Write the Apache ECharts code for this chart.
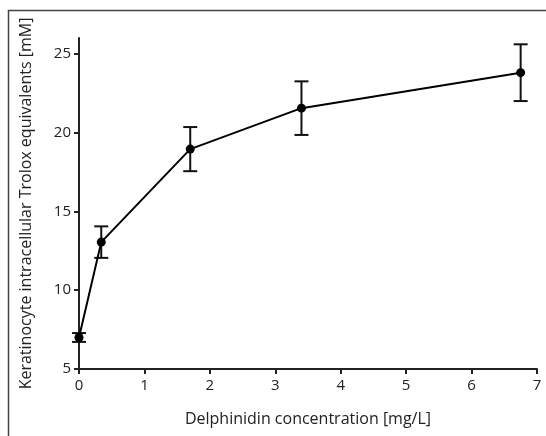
<!DOCTYPE html>
<html><head><meta charset="utf-8">
<script src="https://cdn.jsdelivr.net/npm/echarts@6/dist/echarts.min.js"></script>
<style>html,body{margin:0;padding:0;background:#fff}#c{width:546px;height:436px}</style>
</head><body><div id="c"></div>
<script>
const concentrations = [0, 0.34, 1.7, 3.4, 6.75];
const trolox = [7.0, 13.05, 18.95, 21.55, 23.8];
const errors = [0.28, 1.0, 1.4, 1.7, 1.8];
const xTicks = [0, 1, 2, 3, 4, 5, 6, 7];
const yTicks = [5, 10, 15, 20, 25];

const chart = echarts.init(document.getElementById('c'), null, {renderer: 'canvas'});
const font = 'Open Sans';
const lineData = concentrations.map((x, i) => [x, trolox[i]]);
const errData = concentrations.map((x, i) => [x, trolox[i] - errors[i], trolox[i] + errors[i]]);

chart.setOption({
  animation: false,
  backgroundColor: '#fff',
  graphic: [{
    type: 'rect', silent: true,
    shape: {x: 8.5, y: 10.5, width: 600, height: 500},
    style: {fill: 'none', stroke: '#444', lineWidth: 1.5}
  }],
  grid: {left: 79, right: 9, top: 38, bottom: 67, containLabel: false},
  xAxis: {
    type: 'value', min: 0, max: 7, interval: 1,
    name: 'Delphinidin concentration [mg/L]', nameLocation: 'middle', nameGap: 42,
    nameTextStyle: {fontFamily: font, fontSize: 16, color: '#222'},
    splitLine: {show: false},
    axisLine: {show: true, lineStyle: {color: '#222', width: 2}},
    axisTick: {show: true, length: 5, lineStyle: {color: '#222', width: 2}, customValues: xTicks},
    axisLabel: {fontFamily: font, fontSize: 15, color: '#222', margin: 9, customValues: xTicks}
  },
  yAxis: {
    type: 'value', min: 5, max: 26, interval: 5,
    name: 'Keratinocyte intracellular Trolox equivalents [mM]', nameLocation: 'middle', nameGap: 45,
    nameRotate: 90,
    nameTextStyle: {fontFamily: font, fontSize: 16, color: '#222'},
    splitLine: {show: false},
    axisLine: {show: true, lineStyle: {color: '#222', width: 2}},
    axisTick: {show: true, length: 5, lineStyle: {color: '#222', width: 2}, customValues: yTicks},
    axisLabel: {fontFamily: font, fontSize: 15, color: '#222', margin: 8, customValues: yTicks}
  },
  series: [
    {
      type: 'custom',
      data: errData,
      z: 3,
      renderItem: function (params, api) {
        const x = api.value(0);
        const lo = api.coord([x, api.value(1)]);
        const hi = api.coord([x, api.value(2)]);
        const w = 7;
        const st = {stroke: '#111', lineWidth: 2};
        return {type: 'group', children: [
          {type: 'line', shape: {x1: hi[0], y1: hi[1], x2: lo[0], y2: lo[1]}, style: st},
          {type: 'line', shape: {x1: hi[0]-w, y1: hi[1], x2: hi[0]+w, y2: hi[1]}, style: st},
          {type: 'line', shape: {x1: lo[0]-w, y1: lo[1], x2: lo[0]+w, y2: lo[1]}, style: st}
        ]};
      }
    },
    {
      type: 'line',
      data: lineData,
      z: 4,
      symbol: 'circle', symbolSize: 9,
      lineStyle: {color: '#000', width: 2},
      itemStyle: {color: '#000'}
    }
  ]
});
</script></body></html>
